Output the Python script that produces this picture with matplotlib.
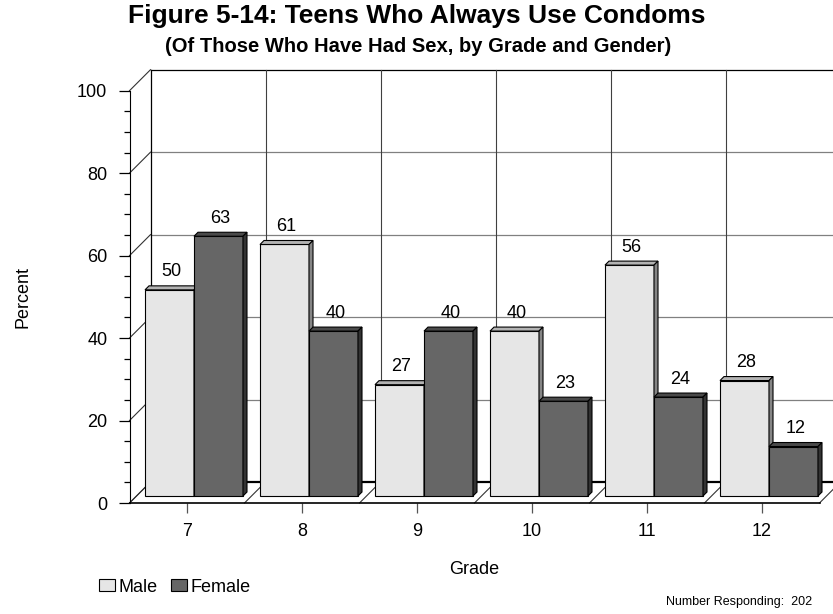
import numpy as np
import matplotlib
matplotlib.use("Agg")
import matplotlib.pyplot as plt
from matplotlib.patches import Polygon, Patch
from matplotlib.ticker import MultipleLocator

plt.rcParams['font.family'] = ['Liberation Sans', 'DejaVu Sans']

grades = ['7', '8', '9', '10', '11', '12']
male = [50, 61, 27, 40, 56, 28]
female = [63, 40, 40, 23, 24, 12]
n_responding = 202

male_cols = ('#E6E6E6', '#B3B3B3', '#858585')     # front, top, side
female_cols = ('#666666', '#4A4A4A', '#333333')

fig = plt.figure(figsize=(8.33, 6.14), dpi=100)
ax = fig.add_axes([129.5 / 833, 111 / 614, 690 / 833, 412.3 / 614])
ax.set_xlim(-0.5, len(grades) - 0.5)
ax.set_ylim(0, 100)

# pixel -> data conversion for the fake depth
bb = ax.get_position()
px_x = bb.width * 833 / (len(grades))
px_y = bb.height * 614 / 100.0
def dep(px):
    return px / px_x, px / px_y

wall_dx, wall_dy = dep(21)
bar_dx, bar_dy = dep(7)
ext_dx, ext_dy = dep(4)
x_left, x_right = -0.5, len(grades) - 0.5

line_kw = dict(clip_on=False, zorder=1)
# back wall
for v in range(0, 101, 20):
    col = 'black' if v in (0, 100) else '#808080'
    lw = 1.6 if v == 0 else 0.9
    ax.plot([x_left + wall_dx, x_right + wall_dx], [v + wall_dy, v + wall_dy],
            color=col, lw=lw, **line_kw)
    # side wall diagonals
    ax.plot([x_left, x_left + wall_dx], [v, v + wall_dy], color='#333333', lw=0.8, **line_kw)
ax.plot([x_left + wall_dx] * 2, [wall_dy, 100 + wall_dy], color='black', lw=0.9, **line_kw)
for b in np.arange(0.5, len(grades), 1.0):
    ax.plot([b + wall_dx] * 2, [wall_dy, 100 + wall_dy], color='#404040', lw=0.8, **line_kw)
# floor
for b in np.arange(-0.5, len(grades) + 0.5, 1.0):
    ax.plot([b, b + wall_dx], [0, wall_dy], color='#333333', lw=0.8, **line_kw)


def box(x0, w, h, cols):
    x0 = x0 + bar_dx
    x1 = x0 + w
    y0 = bar_dy
    y1 = bar_dy + h
    front = Polygon([(x0, y0), (x1, y0), (x1, y1), (x0, y1)], closed=True)
    side = Polygon([(x1, y0), (x1 + ext_dx, y0 + ext_dy), (x1 + ext_dx, y1 + ext_dy), (x1, y1)], closed=True)
    top = Polygon([(x0, y1), (x1, y1), (x1 + ext_dx, y1 + ext_dy), (x0 + ext_dx, y1 + ext_dy)], closed=True)
    for p, c in zip((front, top, side), cols):
        p.set_facecolor(c)
        p.set_edgecolor('black')
        p.set_linewidth(0.8)
        p.set_zorder(3)
        p.set_clip_on(False)
        ax.add_patch(p)
    ax.annotate(str(h), xy=((x0 + x1) / 2 + ext_dx / 2, y1), xytext=(0, 18),
                textcoords='offset pixels', ha='center', va='center', fontsize=13, zorder=4)


width = 0.426
for i in range(len(grades)):
    box(i - width, width, male[i], male_cols)
    box(i, width, female[i], female_cols)

for s in ('top', 'right'):
    ax.spines[s].set_visible(False)
ax.spines['left'].set_zorder(2)
ax.spines['bottom'].set_zorder(2)
ax.spines['bottom'].set_linewidth(1.2)
ax.set_facecolor('none')

ax.set_xticks(range(len(grades)))
ax.set_xticklabels(grades, fontsize=13)
ax.tick_params(axis='x', length=7.5, width=0.9, color='#555555', pad=7)
ax.yaxis.set_major_locator(MultipleLocator(20))
ax.yaxis.set_minor_locator(MultipleLocator(5))
ax.tick_params(axis='y', which='major', length=8, width=0.9, labelsize=13, pad=8)
ax.tick_params(axis='y', which='minor', length=4.5, width=0.9)

ax.set_xlabel('Grade', fontsize=13, labelpad=15)
ax.set_ylabel('Percent', fontsize=13, labelpad=33)

fig.text(0.5006, 1 - 16 / 614, 'Figure 5-14: Teens Who Always Use Condoms',
         ha='center', va='center', fontsize=19, fontweight='bold')
fig.text(0.5018, 1 - 46 / 614, '(Of Those Who Have Had Sex, by Grade and Gender)',
         ha='center', va='center', fontsize=14.5, fontweight='bold')

handles = [Patch(facecolor=male_cols[0], edgecolor='black', lw=0.8, label='Male'),
           Patch(facecolor=female_cols[0], edgecolor='black', lw=0.8, label='Female')]
fig.legend(handles=handles, loc='center left', bbox_to_anchor=(99 / 833, 1 - 587 / 614),
           ncol=2, frameon=False, fontsize=13, handlelength=0.9, handleheight=0.6,
           handletextpad=0.2, columnspacing=0.7, borderpad=0, borderaxespad=0)

fig.text(812 / 833, 1 - 602 / 614, 'Number Responding:  %d' % n_responding,
         ha='right', va='center', fontsize=9)

fig.savefig('out.png', dpi=100)
